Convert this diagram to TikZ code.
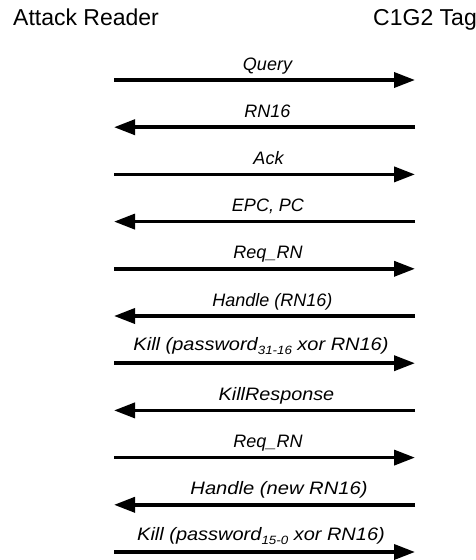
\documentclass[tikz,border=0pt]{standalone}
\usepackage{fontspec}
\setmainfont{Liberation Sans}
\usetikzlibrary{arrows.meta}
\newcommand{\sbx}[1]{\raisebox{-4pt}{\fontsize{12}{12}\selectfont #1}}
\begin{document}
\begin{tikzpicture}[x=1pt,y=-1pt,
  msg/.style={line width=3.6pt,-{Triangle[length=21pt,width=15pt]}},
  lbl/.style={anchor=base,inner sep=0pt,font=\fontsize{18}{18}\selectfont\itshape},
  hdr/.style={anchor=base,inner sep=0pt,font=\fontsize{23}{23}\selectfont}]
\useasboundingbox (0,0) rectangle (476,560);
\node[hdr,anchor=base west] (reader) at (13,25) {Attack Reader};
\node[hdr,anchor=base east] (tag) at (477,25) {C1G2 Tag};
\foreach \i in {0,...,10}{
  \coordinate (L\i) at (114,{80+47.2*\i});
  \coordinate (R\i) at (415,{80+47.2*\i});
}
\draw[msg] (L0) -- (R0);
\draw[msg] (R1) -- (L1);
\draw[msg] (L2) -- (R2);
\draw[msg] (R3) -- (L3);
\draw[msg] (L4) -- (R4);
\draw[msg] (R5) -- (L5);
\draw[msg] (L6) -- (R6);
\draw[msg] (R7) -- (L7);
\draw[msg] (L8) -- (R8);
\draw[msg] (R9) -- (L9);
\draw[msg] (L10) -- (R10);
\node[lbl] (m0) at (267.5,{80+47.2*0-10}) {Query};
\node[lbl] (m1) at (267.5,{80+47.2*1-10}) {RN16};
\node[lbl] (m2) at (268.5,{80+47.2*2-10}) {Ack};
\node[lbl] (m3) at (268,{80+47.2*3-10}) {EPC, PC};
\node[lbl] (m4) at (268,{80+47.2*4-10}) {Req\_RN};
\node[lbl] (m5) at (272.5,{80+47.2*5-10}) {Handle (RN16)};
\node[lbl] (m6) at (261,{80+47.2*6-13}) {\scalebox{1.11}[1]{Kill (password\sbx{31-16} xor RN16)}};
\node[lbl] (m7) at (276.5,{80+47.2*7-10}) {\scalebox{1.1}[1]{KillResponse}};
\node[lbl] (m8) at (268,{80+47.2*8-10}) {Req\_RN};
\node[lbl] (m9) at (279,{80+47.2*9-10}) {\scalebox{1.12}[1]{Handle (new RN16)}};
\node[lbl] (m10) at (261,{80+47.2*10-12}) {\scalebox{1.11}[1]{Kill (password\sbx{15-0} xor RN16)}};
\end{tikzpicture}
\end{document}
